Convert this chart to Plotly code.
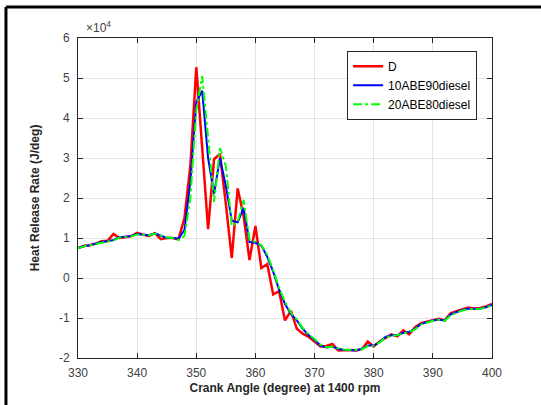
import plotly.graph_objects as go

crank_angle = list(range(330, 401))

# Heat release rate (J/deg)
hrr_D = [7500, 8000, 8200, 8600, 9200, 9300, 11000, 10000, 10200, 10500,
         11300, 10800, 10500, 11200, 9700, 10000, 10000, 9700, 15000, 28000,
         52700, 33000, 12200, 29700, 31000, 18500, 5000, 22400, 15500, 4500,
         13000, 2500, 3500, -4100, -3300, -10600, -8200, -12700, -13900, -14700,
         -15800, -17100, -17000, -16500, -18100, -18000, -18000, -18100, -17800, -15900,
         -17100, -15900, -15100, -14100, -14600, -13100, -14100, -12300, -11300, -10900,
         -10500, -10200, -10600, -8800, -8300, -7800, -7400, -7600, -7500, -7100,
         -6500]
hrr_10ABE90 = [7500, 8000, 8200, 8600, 9000, 9200, 9500, 10200, 10300, 10500,
               11000, 10800, 10700, 11200, 10500, 10000, 10000, 9800, 12000, 24000,
               44000, 46800, 30000, 21000, 30000, 23000, 14300, 13900, 17500, 9000,
               8800, 8100, 5300, 1600, -2900, -6500, -9000, -10600, -12700, -14300,
               -15500, -16900, -17400, -17200, -17700, -18000, -18000, -18100, -17700, -16900,
               -16900, -16000, -14700, -14300, -14300, -13700, -13500, -12700, -11500, -11000,
               -10600, -10400, -10600, -9100, -8500, -8000, -7700, -7700, -7700, -7300,
               -6700]
hrr_20ABE80 = [7400, 7900, 8200, 8500, 8900, 9100, 9400, 10100, 10300, 10400,
               10900, 10800, 10700, 11100, 10600, 10100, 10000, 9500, 10500, 20000,
               42000, 50500, 35000, 19000, 32500, 28000, 13000, 14000, 19500, 9500,
               9000, 8200, 5800, 2000, -2500, -6000, -8700, -10400, -12500, -14100,
               -15300, -16700, -17300, -17200, -17600, -17900, -18000, -18000, -17800, -17000,
               -16900, -16100, -14900, -14400, -14300, -13800, -13500, -12800, -11600, -11100,
               -10700, -10400, -10700, -9300, -8600, -8100, -7800, -7700, -7700, -7400,
               -6800]

x_ticks = [330, 340, 350, 360, 370, 380, 390, 400]
y_ticks = [-20000, -10000, 0, 10000, 20000, 30000, 40000, 50000, 60000]
y_tick_labels = ["-2", "-1", "0", "1", "2", "3", "4", "5", "6"]

FONT = "Liberation Sans, Arial, sans-serif"

fig = go.Figure()
fig.add_trace(go.Scatter(x=crank_angle, y=hrr_D, mode="lines", name="D",
                         line=dict(color="#ff0000", width=2.5)))
fig.add_trace(go.Scatter(x=crank_angle, y=hrr_10ABE90, mode="lines", name="10ABE90diesel",
                         line=dict(color="#0000ff", width=2)))
fig.add_trace(go.Scatter(x=crank_angle, y=hrr_20ABE80, mode="lines", name="20ABE80diesel",
                         line=dict(color="#00ff00", width=2, dash="dashdot")))

axis_common = dict(showline=True, linecolor="#262626", linewidth=1, mirror="allticks",
                   ticks="inside", ticklen=5, tickcolor="#262626",
                   showgrid=True, gridcolor="#e3e3e3", gridwidth=1, zeroline=False,
                   tickfont=dict(family=FONT, size=12, color="#404040"))

fig.update_xaxes(range=[330, 400], tickvals=x_ticks, ticklabelstandoff=4, **axis_common,
                 title=dict(text="<b>Crank Angle (degree) at 1400 rpm</b>", standoff=4,
                            font=dict(family=FONT, size=12, color="#262626")))
fig.update_yaxes(range=[-20000, 60000], tickvals=y_ticks, ticktext=y_tick_labels,
                 ticklabelstandoff=5, **axis_common,
                 title=dict(text="<b>Heat Release Rate (J/deg)</b>", standoff=16,
                            font=dict(family=FONT, size=12, color="#262626")))

fig.add_annotation(xref="paper", yref="paper", x=0.015, y=1.003, xanchor="left", yanchor="bottom",
                   text="×10<sup>4</sup>", showarrow=False,
                   font=dict(family=FONT, size=12, color="#404040"))

# figure frame (top and left edges visible)
fig.add_shape(type="line", xref="paper", yref="paper", x0=-0.174, y0=1.097, x1=1.2, y1=1.097,
              line=dict(color="black", width=3))
fig.add_shape(type="line", xref="paper", yref="paper", x0=-0.174, y0=1.097, x1=-0.174, y1=-0.2,
              line=dict(color="black", width=3))

fig.update_layout(
    width=541, height=405,
    margin=dict(l=78, r=49, t=38, b=40),
    paper_bgcolor="white", plot_bgcolor="white",
    showlegend=True,
    legend=dict(x=0.65, y=0.96, xanchor="left", yanchor="top",
                bgcolor="white", bordercolor="#262626", borderwidth=1,
                font=dict(family=FONT, size=12, color="#000000"),
                tracegroupgap=0, itemwidth=30),
)

fig.write_html("out.html")
